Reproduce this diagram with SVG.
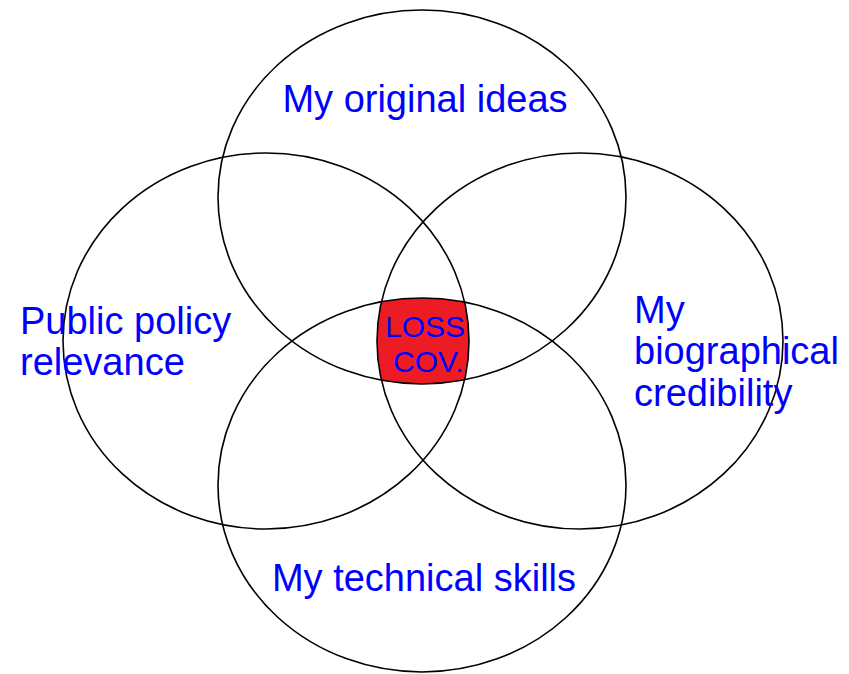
<svg xmlns="http://www.w3.org/2000/svg" width="849" height="674" viewBox="0 0 849 674">
<style>
.c{fill:none;stroke:#000;stroke-width:1.6}
.t{font-family:"Liberation Sans",Arial,sans-serif;font-size:38px;fill:#0000ff}
.s{font-family:"Liberation Sans",Arial,sans-serif;font-size:30px;fill:#0000ff}
</style>
<defs>
<clipPath id="cT"><ellipse cx="422" cy="197" rx="204" ry="187"/></clipPath>
<clipPath id="cB"><ellipse cx="422" cy="485" rx="204" ry="187"/></clipPath>
<clipPath id="cL"><ellipse cx="266" cy="341" rx="203" ry="188"/></clipPath>
<clipPath id="cR"><ellipse cx="580" cy="341" rx="203" ry="188"/></clipPath>
</defs>
<rect width="849" height="674" fill="#fff"/>
<g id="overlap">
<g clip-path="url(#cT)"><g clip-path="url(#cB)"><g clip-path="url(#cL)"><rect x="300" y="250" width="250" height="180" fill="#ed1c24" clip-path="url(#cR)"/></g></g></g>
</g>
<g id="top"><ellipse class="c" cx="422" cy="197" rx="204" ry="187"/><text class="t" x="425" y="112" text-anchor="middle">My original ideas</text></g>
<g id="left"><ellipse class="c" cx="266" cy="341" rx="203" ry="188"/><text class="t" x="20" y="334">Public policy</text><text class="t" x="20" y="375">relevance</text></g>
<g id="right"><ellipse class="c" cx="580" cy="341" rx="203" ry="188"/><text class="t" x="634" y="323">My</text><text class="t" x="634" y="364">biographical</text><text class="t" x="634" y="406">credibility</text></g>
<g id="bottom"><ellipse class="c" cx="422" cy="485" rx="204" ry="187"/><text class="t" x="424" y="591" text-anchor="middle">My technical skills</text></g>
<g id="center"><text class="s" x="385" y="337">LOSS</text><text class="s" x="393" y="372">COV.</text></g>
</svg>
